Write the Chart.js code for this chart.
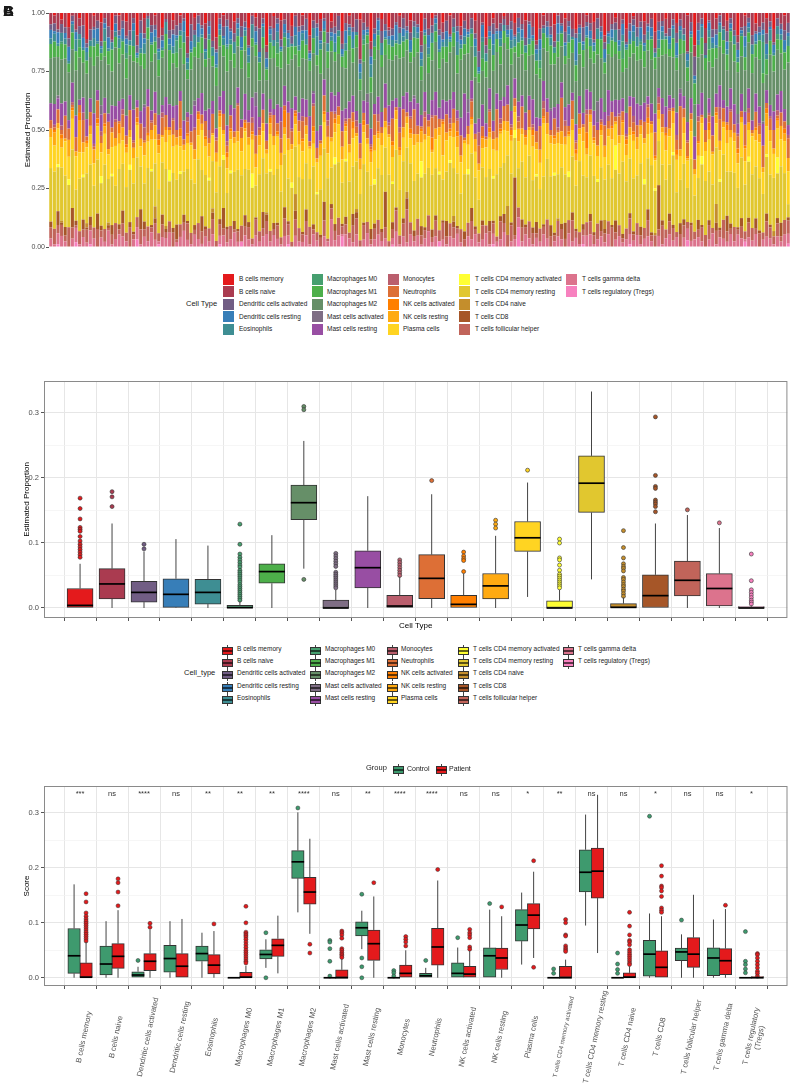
<!DOCTYPE html>
<html>
<head>
<meta charset="utf-8">
<script src="https://cdn.jsdelivr.net/npm/chart.js@4.4.0/dist/chart.umd.min.js"></script>
<style>
  body { margin: 0; background: #fff; }
  #page { position: relative; width: 792px; height: 1086px; overflow: hidden; font-family: "Liberation Sans", Arial, sans-serif; color: #1a1a1a; }
  #page canvas { position: absolute; left: 0; }
  .lbl { position: absolute; white-space: nowrap; line-height: 1; transform: translateY(-50%); }
  .sw { position: absolute; }
  .tag { position: absolute; left: 3px; top: 3px; font-weight: bold; font-size: 15px; line-height: 1; }
</style>
</head>
<body>
<div id="page">
  <canvas id="chartA" width="792" height="260" style="top:0"></canvas>
  <canvas id="chartB" width="792" height="300" style="top:340px"></canvas>
  <canvas id="chartC" width="792" height="316" style="top:770px"></canvas>
  <div class="tag">A</div><div class="tag">B</div><div class="tag">C</div>
</div>
<script>
const FONT = '"Liberation Sans", Arial, sans-serif';

const cellTypes = ['B cells memory', 'B cells naive', 'Dendritic cells activated', 'Dendritic cells resting', 'Eosinophils',
  'Macrophages M0', 'Macrophages M1', 'Macrophages M2', 'Mast cells activated', 'Mast cells resting',
  'Monocytes', 'Neutrophils', 'NK cells activated', 'NK cells resting', 'Plasma cells',
  'T cells CD4 memory activated', 'T cells CD4 memory resting', 'T cells CD4 naive', 'T cells CD8', 'T cells follicular helper',
  'T cells gamma delta', 'T cells regulatory (Tregs)'];
const typeColors = ['#E41A1C', '#AA3B50', '#715D84', '#377EB8', '#3E8E93', '#469F6F', '#4DAF4A', '#668F68', '#7F6E85', '#984EA3',
  '#BA5E6D', '#DD6F36', '#FF7F00', '#FFAA11', '#FFD422', '#FFFF33', '#E1C72F', '#C48E2C', '#A65628', '#C1645A', '#DC738D', '#F781BF'];
const groupNames = ['Control', 'Patient'];
const groupColors = ['#3E9A6E', '#E41A1C'];

// panel A: per-sample estimated composition (percent, one value per sample)
const bCellsMemory = [0,1,0,3,0,5,0,0,2,0, 12,0,1,0,4,0,0,7,0,1, 0,3,0,0,9,0,2,0,0,1, 0,6,0,0,3,0,1,0,10,0,
  2,0,0,4,0,0,8,0,1,0, 0,3,0,0,0,6,0,2,0,0, 15,0,1,0,3,0,0,5,0,0, 1,0,9,0,0,2,0,0,4,0,
  0,7,0,1,0,0,3,0,0,11, 0,0,2,0,5,0,0,1,0,0, 3,0,0,8,0,0,2,0,0,4, 0,1,0,0,6,0,0,0,3,0,
  0,9,0,2,0,0,1,0,0,5, 0,0,3,0,0,12,0,1,0,0, 4,0,0,2,0,0,7,0,0,1, 0,3,0,0,10,0,0,2,0,0,
  6,0,1,0,0,3,0,0,8,0, 0,2,0,0,4,0,0,1,0,17, 0,0,5,0,0,2,0,0,3,0, 0,9,0,1,0,0,4,0,0,2, 0,6,0,0,1,0];
const bCellsNaive = [4,3,6,2,5,4,1,7,3,5, 2,6,4,3,8,2,5,4,1,6, 3,5,7,2,4,3,6,1,5,4, 9,3,2,6,4,5,3,2,7,4,
  5,1,4,6,3,13,4,2,5,3, 6,4,2,5,3,7,1,4,6,2, 3,5,4,2,8,3,6,4,1,5, 4,2,6,3,5,4,2,7,3,6,
  1,5,4,3,6,2,18,4,5,3, 6,2,4,5,1,7,3,4,2,6, 5,3,4,6,2,5,3,1,6,4, 3,7,2,5,4,3,6,2,5,17,
  4,3,5,2,6,4,1,5,3,6, 2,4,7,3,5,2,6,4,3,5, 6,1,4,5,3,6,2,4,5,3, 4,6,2,5,3,7,4,2,6,3,
  5,4,1,6,3,5,4,2,7,4, 3,5,6,2,4,3,5,16,3,6, 4,2,5,3,6,4,1,5,4,2, 6,3,5,4,2,7,3,5,4,6, 3,5,2,4,6,3];
const dcActivated = [2,3,1,4,2,3,2,1,3,5, 2,4,1,3,2,2,4,1,3,2, 3,1,4,2,3,5,2,1,3,2, 4,2,1,3,2,4,3,1,2,6,
  2,3,1,4,2,3,1,2,4,3, 1,3,2,4,2,1,3,2,9,2, 3,1,4,2,3,2,1,3,4,2, 2,4,1,3,2,3,1,4,2,3,
  5,2,3,1,2,4,2,3,1,3, 2,1,4,3,2,3,1,2,4,2, 3,2,1,3,4,2,3,1,2,3, 4,1,3,2,2,3,1,4,2,7,
  1,3,2,4,1,3,2,2,3,1, 4,2,3,1,3,2,4,1,2,3, 2,3,1,4,2,3,2,1,5,2, 3,1,4,2,3,1,2,3,4,2,
  1,3,2,4,2,3,1,3,2,4, 2,1,3,2,4,3,2,1,3,10, 3,2,4,1,3,2,3,1,4,2, 2,3,1,4,2,3,1,2,3,4, 2,1,3,2,4,3];
const dcResting = [3,1,4,0,2,5,1,3,0,4, 2,0,3,5,1,2,4,0,3,1, 4,2,0,3,1,6,2,0,4,3, 1,3,0,2,5,1,0,4,2,3,
  0,5,2,1,3,0,4,2,1,8, 3,0,2,4,1,3,0,5,2,1, 4,2,0,3,1,4,2,0,3,5, 1,3,2,0,4,1,3,0,2,4,
  0,2,5,1,3,0,4,2,1,3, 2,4,0,3,1,2,5,0,3,1, 4,0,2,3,1,4,0,2,5,1, 3,1,0,4,2,3,1,0,3,2,
  5,0,2,4,1,3,0,2,4,1, 2,3,0,5,1,2,4,0,3,1, 0,4,2,1,3,0,10,2,1,4, 3,1,0,2,4,1,3,0,2,5,
  1,3,2,0,4,1,2,3,0,4, 2,0,3,1,5,2,0,3,1,2, 4,1,0,3,2,4,1,0,3,2, 0,3,1,4,2,0,3,1,2,4, 1,3,0,2,4,1];
const eosinophils = [2,3,1,4,2,1,3,5,2,1, 4,2,3,1,2,5,1,3,2,4, 1,3,2,6,1,2,4,3,1,2, 3,1,4,2,3,1,2,4,3,1,
  5,2,1,3,2,4,1,2,3,1, 2,4,3,1,2,3,5,1,2,4, 1,3,2,4,1,2,3,1,4,2, 3,2,1,4,9,2,1,3,2,4,
  2,1,3,2,4,1,3,2,1,5, 3,2,4,1,2,3,1,4,2,3, 1,4,2,3,1,2,4,3,1,2, 3,1,2,5,2,3,1,2,4,1,
  2,3,1,4,2,3,2,1,3,4, 4,1,3,2,1,3,4,2,1,3, 2,3,1,4,3,1,2,3,2,1, 3,2,4,1,2,3,1,5,2,3,
  1,2,3,4,1,2,3,1,2,4, 3,1,2,3,1,4,2,3,1,2, 2,4,1,3,2,1,3,4,2,1, 3,2,1,4,2,3,1,2,3,2, 4,1,3,2,1,3];
const macrophagesM0 = [0,0,0,1,0,0,0,0,3,0, 0,0,0,0,0,0,0,0,0,0, 0,2,0,0,0,0,0,0,0,0, 0,0,0,0,0,5,0,0,0,0,
  0,0,0,0,0,0,0,0,0,1, 0,0,0,0,0,0,0,0,0,0, 0,0,0,4,0,0,0,0,0,0, 0,0,0,0,0,0,0,0,0,0,
  0,0,0,0,0,0,0,2,0,0, 0,0,0,0,0,0,0,0,0,0, 0,0,0,0,0,1,0,0,0,0, 0,0,0,0,0,0,0,0,0,0,
  7,0,0,0,0,0,0,0,0,0, 0,0,0,0,0,0,3,0,0,0, 0,0,0,0,0,0,0,0,0,0, 0,0,0,0,0,0,0,0,0,8,
  0,0,0,0,1,0,0,0,0,0, 0,0,0,0,0,0,0,0,0,0, 0,0,0,5,0,0,0,0,0,0, 0,0,0,0,0,0,0,0,13,0, 0,0,2,0,0,0];
const macrophagesM1 = [5,6,4,7,5,3,6,8,4,5, 6,4,7,5,3,6,5,9,4,6, 5,7,4,6,2,5,6,4,7,5, 6,3,5,7,4,6,5,8,4,6,
  4,6,5,3,7,5,6,4,5,10, 6,5,4,7,5,6,3,5,7,4, 5,6,4,5,7,4,6,5,3,6, 7,5,4,6,5,8,4,6,5,4,
  6,4,7,5,6,4,5,7,3,6, 5,6,4,7,5,6,4,5,6,5, 4,7,5,6,3,5,7,4,6,5, 6,4,5,7,5,4,6,5,8,4,
  5,6,4,6,5,7,4,5,6,3, 6,5,7,4,5,6,4,6,5,7, 4,6,5,3,6,5,7,4,6,5, 5,4,6,7,5,4,6,5,3,6,
  7,5,4,6,5,6,4,7,5,4, 6,5,3,6,5,7,4,6,5,11, 5,6,4,5,7,4,6,5,6,4, 6,4,7,5,4,6,5,7,4,6, 5,6,4,5,7,5];
const macrophagesM2 = [16,18,14,20,15,17,12,19,16,14, 21,15,17,13,19,16,18,14,22,15, 17,13,16,19,15,18,14,17,20,16, 14,19,16,12,18,15,17,21,14,16,
  18,15,13,17,19,16,14,18,15,24, 17,14,16,19,15,13,18,16,14,17, 20,15,17,14,16,18,13,19,15,17, 16,14,18,15,31,17,14,16,19,15,
  13,17,16,18,14,20,15,16,18,14, 17,19,15,13,16,18,14,17,15,19, 16,14,18,15,17,13,16,19,14,17, 15,18,16,14,26,15,17,13,18,16,
  14,17,15,19,16,14,18,15,17,13, 18,15,17,14,16,19,15,13,17,16, 15,18,14,16,17,15,19,14,16,18, 13,16,18,15,17,14,16,19,15,12,
  17,15,14,18,16,13,17,15,19,14, 16,18,15,13,17,16,14,18,15,17, 19,14,16,15,18,13,16,17,14,18, 15,17,13,16,19,15,14,17,16,6, 18,15,17,14,16,19];
const mastActivated = [0,0,1,0,0,0,0,0,0,0, 0,0,0,0,4,0,0,0,0,0, 0,0,0,0,0,0,1,0,0,0, 0,0,0,0,0,0,0,0,0,0,
  2,0,0,0,0,0,0,0,0,0, 0,0,0,0,0,0,0,6,0,0, 0,0,0,0,0,0,0,0,0,0, 0,0,0,1,0,0,0,0,0,0,
  0,0,0,0,0,0,0,0,3,0, 0,0,0,0,0,0,0,0,0,0, 0,1,0,0,0,0,0,0,0,0, 0,0,0,0,0,0,5,0,0,0,
  0,0,0,0,0,0,0,0,0,0, 0,0,0,0,0,0,0,0,0,1, 0,0,0,0,0,0,0,0,0,0, 0,0,8,0,0,0,0,0,0,0,
  0,0,0,0,0,0,0,0,0,0, 0,0,0,0,0,2,0,0,0,0, 0,0,0,0,0,0,0,0,0,0, 0,4,0,0,0,0,0,0,1,0, 0,0,0,0,0,0];
const mastResting = [6,8,4,10,5,3,7,9,2,6, 8,5,11,4,7,6,3,9,5,8, 4,7,6,12,3,5,8,6,4,9, 7,3,6,8,5,10,4,7,2,6,
  9,5,7,4,8,6,3,5,10,7, 4,8,6,3,9,5,7,13,4,6, 8,5,2,7,6,9,4,8,5,3, 7,6,10,4,8,5,6,3,9,7,
  5,8,4,6,7,3,9,5,8,6, 4,7,5,11,6,8,3,7,5,9, 6,4,8,5,7,2,6,9,4,8, 5,7,6,3,8,17,5,7,4,6,
  9,5,8,4,6,7,3,8,5,10, 6,4,7,5,9,6,3,8,5,7, 4,9,6,5,8,3,7,6,4,9, 7,5,3,8,6,10,4,7,5,6,
  8,4,6,9,5,7,3,6,8,4, 6,7,5,3,9,6,4,8,5,12, 5,8,4,6,7,5,9,3,6,8, 7,4,6,5,8,3,7,6,9,5, 4,7,6,8,5,3];
const monocytes = [0,1,0,2,0,0,1,0,0,3, 0,0,1,0,2,0,0,0,1,0, 2,0,0,1,0,0,5,0,1,0, 0,2,0,0,1,0,0,0,2,0,
  1,0,0,0,3,0,1,0,0,2, 0,0,1,0,0,0,2,0,1,0, 0,1,0,0,7,0,0,1,0,0, 2,0,0,1,0,0,0,2,0,1,
  0,0,1,0,0,2,0,0,0,1, 0,3,0,0,1,0,0,2,0,0, 1,0,0,0,2,0,1,0,0,0, 0,2,0,1,0,0,0,1,0,6,
  0,0,1,0,0,2,0,0,1,0, 2,0,0,0,1,0,0,3,0,0, 0,1,0,2,0,0,1,0,0,2, 0,0,0,1,0,2,0,0,1,0,
  1,0,2,0,0,0,1,0,0,3, 0,0,1,0,2,0,0,1,0,0, 2,0,0,1,0,0,5,0,0,1, 0,1,0,0,2,0,0,1,0,0, 1,0,2,0,0,1];
const neutrophils = [3,1,5,2,8,4,1,6,3,9, 2,5,1,7,3,4,10,2,6,1, 5,3,8,2,4,6,1,9,3,5, 2,7,4,1,6,3,11,2,5,4,
  8,1,3,6,2,9,4,1,7,3, 5,2,10,4,1,6,3,8,2,5, 4,1,7,3,6,2,9,5,1,4, 7,3,2,8,5,1,6,4,12,2,
  3,6,1,9,4,2,7,3,5,1, 8,4,2,6,3,10,1,5,7,2, 4,9,3,1,6,2,8,5,3,1, 7,2,5,4,9,1,3,6,2,8,
  4,1,6,3,11,2,5,7,1,4, 3,8,2,6,1,5,9,3,4,2, 6,1,13,4,2,7,3,5,1,8, 2,4,6,1,9,3,5,2,7,4,
  1,8,3,5,2,6,4,1,10,3, 5,2,7,1,4,20,3,6,2,5, 8,1,4,3,6,2,9,5,1,7, 3,5,2,8,4,1,6,3,9,2, 4,7,1,5,3,6];
const nkActivated = [0,1,0,2,0,0,1,0,3,0, 1,0,0,2,0,1,0,0,0,4, 0,1,0,0,2,0,0,1,0,0, 2,0,1,0,0,0,3,0,1,0,
  0,2,0,1,0,0,0,1,0,2, 1,0,0,0,2,0,1,0,0,0, 0,2,0,1,0,8,0,0,1,0, 1,0,0,2,0,0,1,0,0,2,
  0,0,1,0,3,0,0,2,0,1, 0,1,0,0,0,2,0,1,0,0, 2,0,0,1,0,0,5,0,0,1, 0,1,0,2,0,0,0,1,0,0,
  1,0,2,0,0,1,0,0,2,0, 0,0,1,0,2,0,0,1,0,0, 1,0,0,0,1,0,2,0,0,7, 0,1,0,2,0,0,1,0,0,1,
  2,0,1,0,0,0,2,0,1,0, 0,1,0,0,2,0,0,1,0,0, 1,0,0,3,0,1,0,0,2,0, 0,2,0,1,0,0,1,0,0,2, 0,0,1,0,2,0];
const nkResting = [3,5,2,4,1,6,3,2,12,4, 2,3,5,1,4,3,2,6,3,4, 5,2,3,4,1,3,5,2,4,6, 3,1,4,2,5,3,4,2,3,1,
  4,6,2,3,5,1,3,4,2,5, 3,2,4,5,1,3,2,6,4,3, 2,4,3,1,5,3,4,2,3,5, 4,3,1,5,2,4,3,6,2,4,
  3,5,2,3,4,1,5,3,2,4, 6,2,4,3,1,5,3,2,4,3, 2,4,3,5,2,3,1,4,3,13, 3,2,5,4,3,1,4,2,5,3,
  4,3,2,4,5,1,3,4,2,3, 5,2,3,1,4,3,5,2,4,3, 2,4,5,3,1,4,3,2,5,3, 3,1,4,2,5,3,4,1,3,6,
  4,3,2,5,3,2,4,3,1,4, 2,5,3,4,2,3,5,1,4,3, 5,2,3,4,1,3,4,2,5,3, 3,4,2,5,3,1,4,3,2,5, 4,2,3,5,3,4];
const plasmaCells = [11,10,13,9,12,8,11,14,10,9, 12,11,8,13,10,12,9,11,15,10, 9,12,11,10,13,8,11,9,12,10, 13,10,9,12,11,14,10,8,11,12,
  10,9,13,11,8,12,10,14,9,11, 12,10,11,9,13,10,12,8,11,10, 9,13,10,12,11,9,10,13,8,12, 11,10,12,9,14,11,10,9,12,11,
  13,9,11,10,12,8,11,13,10,9, 11,12,10,9,13,11,10,12,9,11, 10,13,11,8,12,10,9,11,13,10, 12,9,11,10,14,12,9,11,10,13,
  8,11,12,10,9,13,11,10,12,9, 11,10,13,9,12,11,10,21,9,12, 10,12,9,11,13,10,11,9,12,10, 13,11,9,12,10,11,14,9,11,12,
  10,9,12,11,10,13,9,11,12,10, 12,10,11,9,13,11,10,12,9,11, 9,12,10,13,11,9,12,10,11,13, 11,10,12,9,11,12,10,13,9,11, 12,9,11,10,13,10];
const cd4MemoryActivated = [0,0,1,0,0,2,0,0,0,1, 0,0,0,0,3,0,0,1,0,0, 0,0,2,0,0,0,0,0,1,0, 0,0,0,4,0,0,1,0,0,0,
  0,0,0,0,1,0,0,0,2,0, 1,0,0,0,0,0,5,0,0,0, 0,1,0,0,0,0,0,2,0,0, 0,0,0,0,1,0,0,0,0,3,
  0,0,1,0,0,0,0,0,0,0, 2,0,0,0,0,1,0,0,0,0, 0,0,0,7,0,0,0,0,1,0, 0,1,0,0,0,0,2,0,0,0,
  0,0,0,1,0,0,0,0,0,4, 0,0,0,0,0,1,0,0,0,0, 1,0,0,0,2,0,0,0,0,0, 0,0,1,0,0,0,0,10,0,0,
  0,0,0,0,0,2,0,0,1,0, 0,0,0,1,0,0,0,0,0,0, 0,3,0,0,0,0,1,0,0,0, 0,0,0,0,2,0,0,0,0,1, 0,0,6,0,0,0];
const cd4MemoryResting = [19,22,16,24,18,15,21,13,20,17, 23,19,15,21,18,25,16,20,14,22, 18,16,21,19,24,17,15,20,22,18, 16,21,19,14,23,18,20,16,22,19,
  17,24,15,20,18,22,16,19,21,15, 20,17,23,19,16,21,18,14,22,20, 18,22,16,20,19,24,15,21,17,19, 21,16,19,23,18,15,20,22,17,26,
  19,16,22,18,20,15,21,24,18,17, 15,21,18,20,23,17,19,16,22,20, 24,18,16,21,19,15,22,18,20,17, 19,23,17,20,16,22,18,21,19,15,
  22,18,20,16,24,19,17,21,18,20, 16,21,19,23,17,20,15,19,22,18, 20,17,22,18,16,21,19,24,17,20, 23,19,16,20,18,22,17,21,19,33,
  18,21,17,20,22,16,19,23,18,20, 21,17,19,22,16,20,18,15,21,19, 17,22,18,20,16,21,19,24,17,20, 19,16,21,18,23,17,20,19,16,22, 18,20,17,21,19,4];
const cd4Naive = [0,0,0,1,0,0,0,0,0,0, 2,0,0,0,0,0,1,0,0,0, 0,0,0,0,0,0,0,0,0,5, 0,0,1,0,0,0,0,0,0,0,
  0,0,0,0,0,2,0,0,0,0, 0,0,0,0,0,0,0,0,0,0, 1,0,0,0,0,0,0,0,6,0, 0,0,0,0,0,0,0,0,0,0,
  0,0,0,0,0,1,0,0,0,0, 0,0,0,0,0,0,0,0,0,3, 0,0,0,0,0,0,0,0,0,0, 0,0,2,0,0,0,0,0,0,0,
  0,0,0,0,0,0,0,12,0,0, 0,0,0,0,0,0,0,0,0,0, 0,1,0,0,0,0,0,0,0,0, 0,0,0,0,4,0,0,0,0,0,
  0,0,0,0,0,0,0,0,1,0, 0,0,0,0,0,0,0,0,0,0, 0,0,0,0,0,7,0,0,0,0, 0,0,0,0,0,0,0,0,0,0, 0,2,0,0,0,0];
const cd8 = [2,0,5,1,3,0,7,2,0,4, 1,3,0,6,2,0,1,4,0,2, 5,0,2,1,0,8,3,0,1,2, 0,4,1,0,2,6,0,3,1,0,
  2,0,5,1,0,3,0,2,9,1, 0,3,1,0,4,2,0,1,0,6, 3,0,2,1,0,5,1,0,3,0, 1,4,0,2,0,1,7,0,2,3,
  0,1,3,0,5,2,0,1,0,4, 2,0,1,16,0,3,1,0,2,5, 0,2,0,4,1,0,3,2,0,1, 6,0,2,1,0,3,0,5,1,0,
  2,0,4,1,0,2,3,0,1,29, 0,3,1,0,2,5,0,1,0,4, 1,0,2,6,0,3,1,0,2,0, 3,1,0,4,2,0,1,5,0,2,
  0,2,1,0,3,0,4,1,0,20, 2,0,3,1,0,5,2,0,1,0, 4,1,0,2,0,3,1,0,6,2, 0,1,3,0,2,0,4,1,0,3, 1,0,2,5,0,1];
const follicularHelper = [4,6,3,5,2,7,4,1,5,3, 6,2,4,7,3,5,1,4,6,2, 5,3,8,2,4,6,3,5,2,7, 3,5,2,4,6,1,5,3,7,4,
  2,6,4,3,5,7,2,4,3,6, 5,1,4,6,3,5,2,7,4,3, 6,4,2,5,3,8,4,2,6,5, 3,5,7,2,4,3,6,1,5,4,
  6,3,4,2,7,5,3,6,4,2, 4,6,3,5,2,4,7,3,5,15, 5,2,6,4,3,5,2,6,4,7, 3,5,4,2,6,3,5,7,2,4,
  6,3,5,4,2,7,3,5,6,2, 4,5,3,6,4,2,5,3,7,4, 2,6,4,3,5,8,3,4,2,6, 5,3,6,2,4,5,7,3,4,2,
  4,6,2,5,3,4,6,2,5,3, 7,3,5,4,2,6,4,3,5,4, 3,5,4,6,2,5,3,7,4,2, 5,2,4,3,6,4,2,5,3,6, 4,3,5,2,6,4];
const gammaDelta = [3,1,4,5,2,0,3,6,1,4, 2,5,3,0,4,2,6,1,3,5, 4,2,0,3,5,1,4,2,6,3, 1,4,3,5,0,2,4,6,3,1,
  5,3,1,4,2,6,0,3,5,2, 3,5,2,0,4,3,1,5,2,4, 6,2,4,3,1,5,3,0,4,2, 2,4,1,5,3,0,4,2,13,3,
  4,1,5,3,2,4,0,3,5,1, 3,5,2,4,0,3,5,1,4,2, 5,2,4,1,3,5,2,4,0,3, 1,4,3,5,2,0,4,3,5,2,
  3,5,1,4,2,3,5,0,2,4, 4,2,5,3,1,4,2,5,3,0, 2,4,3,0,5,2,4,1,3,5, 5,1,3,4,2,5,0,3,4,2,
  3,4,2,5,1,3,4,2,0,5, 1,3,5,2,4,0,3,5,2,4, 4,2,0,3,5,1,4,3,2,5, 2,5,3,1,4,2,5,0,3,4, 3,1,4,2,5,3];
const tregs = [0,0,1,0,0,0,0,2,0,0, 0,1,0,0,0,0,0,0,0,0, 0,0,0,0,3,0,0,0,0,0, 1,0,0,0,0,0,0,0,0,0,
  0,0,0,0,0,0,0,1,0,0, 0,0,0,2,0,0,0,0,0,0, 0,0,0,0,0,0,1,0,0,0, 0,0,0,0,0,0,0,0,0,0,
  0,4,0,0,0,0,0,0,0,0, 0,0,0,0,0,1,0,0,0,0, 0,0,0,0,0,0,0,0,2,0, 0,0,0,0,0,0,0,0,0,0,
  0,0,0,1,0,0,0,0,0,0, 8,0,0,0,0,0,0,0,0,0, 0,0,0,0,0,0,0,0,1,0, 0,0,0,0,0,0,0,0,0,0,
  0,1,0,0,0,0,0,0,0,0, 0,0,0,0,0,0,0,3,0,0, 0,0,0,0,0,0,0,0,0,0, 0,0,0,2,0,0,0,0,0,0, 0,0,0,0,0,1];

// panel B: box statistics per cell type
const bxLow  = [0, 0, 0, 0, 0, 0, 0, 0.0605, 0, 0, 0, 0, 0, 0, 0.017, 0, 0.044, 0, 0, 0, 0, 0];
const bxQ1   = [0, 0.014, 0.009, 0.001, 0.006, 0, 0.038, 0.136, 0, 0.031, 0, 0.0144, 0, 0.014, 0.087, 0, 0.147, 0, 0, 0.0185, 0.003, 0];
const bxMed  = [0.004, 0.037, 0.024, 0.021, 0.024, 0.0005, 0.056, 0.162, 0, 0.062, 0.003, 0.0456, 0.0056, 0.034, 0.108, 0, 0.192, 0.001, 0.019, 0.0426, 0.030, 0];
const bxQ3   = [0.030, 0.0605, 0.041, 0.045, 0.044, 0.004, 0.068, 0.189, 0.012, 0.088, 0.0195, 0.082, 0.0195, 0.053, 0.133, 0.011, 0.234, 0.0067, 0.051, 0.072, 0.0528, 0.002];
const bxHigh = [0.068, 0.130, 0.087, 0.106, 0.096, 0.010, 0.112, 0.257, 0.028, 0.172, 0.048, 0.175, 0.053, 0.111, 0.193, 0.028, 0.333, 0.016, 0.130, 0.143, 0.123, 0.004];
const bxOutliers = [
  [0.169, 0.153, 0.137, 0.124, 0.121, 0.118, 0.110, 0.103, 0.098, 0.094, 0.090, 0.086, 0.082, 0.078],
  [0.179, 0.171, 0.156],
  [0.098, 0.091],
  [],
  [],
  [0.129, 0.098, 0.083, 0.078, 0.074, 0.070, 0.066, 0.063, 0.058, 0.055, 0.052, 0.049, 0.046, 0.043, 0.040, 0.036, 0.033, 0.030, 0.027, 0.024, 0.021, 0.018, 0.015, 0.012],
  [],
  [0.310, 0.305, 0.044],
  [0.084, 0.080, 0.076, 0.072, 0.068, 0.064, 0.055, 0.052, 0.049, 0.046, 0.043, 0.040, 0.037, 0.034, 0.031],
  [],
  [0.074, 0.070, 0.066, 0.062, 0.058, 0.054, 0.050],
  [0.196],
  [0.086, 0.080, 0.076, 0.073, 0.056],
  [0.135, 0.129, 0.123],
  [0.212],
  [0.106, 0.100, 0.077, 0.074, 0.066, 0.058, 0.052, 0.049, 0.046, 0.043, 0.040, 0.037, 0.034, 0.031],
  [],
  [0.119, 0.093, 0.077, 0.068, 0.064, 0.061, 0.057, 0.047, 0.044, 0.040, 0.036, 0.033, 0.029, 0.026, 0.022, 0.018],
  [0.294, 0.204, 0.187, 0.184, 0.166, 0.163, 0.160, 0.156, 0.148],
  [0.151],
  [0.131],
  [0.083, 0.042, 0.028, 0.024, 0.020, 0.016, 0.012, 0.009, 0.006]
];

// panel C: box statistics per group
const ctlLow  = [0, 0, 0, 0, 0, 0, 0.018, 0.119, 0, 0.052, 0, 0, 0, 0, 0.024, 0, 0.095, 0, 0, 0, 0, 0];
const ctlQ1   = [0.008, 0.005, 0, 0.010, 0.030, 0, 0.0345, 0.181, 0, 0.076, 0, 0, 0, 0, 0.0667, 0, 0.156, 0, 0.003, 0.031, 0.004, 0];
const ctlMed  = [0.040, 0.025, 0.005, 0.035, 0.044, 0, 0.0424, 0.211, 0, 0.091, 0, 0.0036, 0.008, 0.040, 0.096, 0, 0.192, 0, 0.043, 0.047, 0.036, 0];
const ctlQ3   = [0.0897, 0.0576, 0.011, 0.059, 0.0576, 0, 0.051, 0.2315, 0, 0.102, 0, 0.008, 0.027, 0.0545, 0.124, 0, 0.233, 0, 0.068, 0.054, 0.0545, 0];
const ctlHigh = [0.170, 0.103, 0.020, 0.103, 0.082, 0, 0.070, 0.301, 0, 0.122, 0, 0.018, 0.055, 0.124, 0.155, 0, 0.297, 0, 0.117, 0.079, 0.106, 0];
const ctlOutliers = [[], [], [0.0315], [], [], [], [0.082, 0], [0.309], [0.068, 0.065, 0.053, 0.030, 0.003], [0.152, 0.036, 0.020, 0],
  [0.013, 0.009, 0.003], [0.0315], [0.073], [0.135], [], [0.016, 0.008], [], [0.045, 0.025, 0.015, 0.008], [0.294], [0.105], [],
  [0.084, 0.030, 0.024, 0.016, 0.009]];
const patLow  = [0, 0, 0, 0, 0, 0, 0.008, 0.080, 0, 0, 0, 0, 0, 0, 0.036, 0, 0.045, 0, 0, 0, 0, 0];
const patQ1   = [0, 0.017, 0.0127, 0, 0.007, 0, 0.039, 0.134, 0, 0.0315, 0, 0.023, 0, 0.015, 0.089, 0, 0.145, 0, 0, 0.019, 0.0055, 0];
const patMed  = [0.001, 0.039, 0.030, 0.021, 0.023, 0.001, 0.059, 0.156, 0, 0.062, 0.008, 0.056, 0.0067, 0.036, 0.114, 0, 0.194, 0.001, 0.019, 0.043, 0.031, 0];
const patQ3   = [0.027, 0.062, 0.044, 0.044, 0.042, 0.010, 0.071, 0.183, 0.0145, 0.087, 0.023, 0.090, 0.0206, 0.054, 0.135, 0.0206, 0.236, 0.009, 0.049, 0.073, 0.053, 0.002];
const patHigh = [0.065, 0.123, 0.088, 0.107, 0.085, 0.022, 0.113, 0.253, 0.034, 0.148, 0.050, 0.177, 0.049, 0.112, 0.193, 0.033, 0.333, 0.021, 0.112, 0.151, 0.125, 0.004];
const patOutliers = [
  [0.153, 0.138, 0.118, 0.112, 0.107, 0.103, 0.099, 0.095, 0.091, 0.087, 0.083, 0.079, 0.075, 0.071, 0.067],
  [0.180, 0.173, 0.156, 0.131], [0.099, 0.092], [], [0.098],
  [0.130, 0.100, 0.083, 0.080, 0.077, 0.074, 0.070, 0.065, 0.060, 0.055, 0.050, 0.046, 0.042, 0.038, 0.034, 0.030, 0.027],
  [], [0.061, 0.045], [0.085, 0.082, 0.078, 0.072, 0.053, 0.050, 0.046, 0.043, 0.040, 0.037], [0.173],
  [0.075, 0.070, 0.065, 0.058], [0.197], [0.088, 0.082, 0.078, 0.073, 0.056, 0.052], [0.129], [0.213, 0.019],
  [0.106, 0.100, 0.078, 0.076, 0.058, 0.054, 0.051, 0.048], [],
  [0.119, 0.094, 0.078, 0.068, 0.065, 0.060, 0.051, 0.047, 0.043, 0.039, 0.035, 0.031, 0.027, 0.024],
  [0.204, 0.185, 0.167, 0.164, 0.158, 0.148, 0.127, 0.123, 0.119], [], [0.132],
  [0.044, 0.042, 0.036, 0.030, 0.024, 0.018, 0.012, 0.008, 0.003]];
const sigText = ['***', 'ns', '****', 'ns', '**', '**', '**', '****', 'ns', '**', '****', '****', 'ns', 'ns', '*', '**', 'ns', 'ns', '*', 'ns', 'ns', '*'];

// ---------- helpers / plugins ----------
const panelFrame = {
  id: 'panelFrame',
  afterDraw(chart) {
    const { ctx, chartArea: a } = chart;
    ctx.save();
    ctx.strokeStyle = '#8a8a8a';
    ctx.lineWidth = 1;
    ctx.strokeRect(a.left + 0.5, a.top + 0.5, a.right - a.left - 1, a.bottom - a.top - 1);
    ctx.restore();
  }
};

// whiskers and median lines for floating-bar boxes
const boxWhiskers = {
  id: 'boxWhiskers',
  afterDatasetsDraw(chart) {
    const ctx = chart.ctx, y = chart.scales.y;
    chart.data.datasets.forEach((ds, i) => {
      if (!ds.stats) return;
      const s = ds.stats;
      ctx.save();
      chart.getDatasetMeta(i).data.forEach((bar, j) => {
        const half = bar.width / 2;
        ctx.strokeStyle = '#444';
        ctx.lineWidth = 1;
        ctx.beginPath();
        ctx.moveTo(bar.x, y.getPixelForValue(s.high[j]));
        ctx.lineTo(bar.x, y.getPixelForValue(s.q3[j]));
        ctx.moveTo(bar.x, y.getPixelForValue(s.q1[j]));
        ctx.lineTo(bar.x, y.getPixelForValue(s.low[j]));
        ctx.stroke();
        const m = y.getPixelForValue(s.med[j]);
        ctx.strokeStyle = '#000';
        ctx.lineWidth = 1.7;
        ctx.beginPath();
        ctx.moveTo(bar.x - half, m);
        ctx.lineTo(bar.x + half, m);
        ctx.stroke();
      });
      ctx.restore();
    });
  }
};

function yAxisBox(title, lo, hi) {
  return {
    type: 'linear', min: lo, max: hi,
    afterFit: s => { s.width = 44; },
    afterBuildTicks: s => { s.ticks = [0, 0.05, 0.1, 0.15, 0.2, 0.25, 0.3].map(v => ({ value: v })); },
    ticks: {
      padding: 2, color: '#4d4d4d', font: { size: 7.5, family: FONT },
      callback: v => (Math.round(v * 100) % 10 === 0 ? v.toFixed(1) : '')
    },
    grid: {
      color: c => (Math.round(c.tick.value * 100) % 10 === 0 ? '#e6e6e6' : '#f2f2f2'),
      lineWidth: c => (Math.round(c.tick.value * 100) % 10 === 0 ? 1 : 0.7),
      tickColor: c => (Math.round(c.tick.value * 100) % 10 === 0 ? '#555' : 'rgba(0,0,0,0)'),
      drawTicks: true, tickLength: 3
    },
    border: { display: false },
    title: { display: true, text: title, color: '#000', font: { size: 8, family: FONT }, padding: { top: 21.5, bottom: 0 } }
  };
}

function xAxisBox(height, title) {
  return {
    type: 'linear', min: -0.6, max: 21.6,
    afterFit: s => { s.height = height; },
    afterBuildTicks: s => { s.ticks = cellTypes.map((_, i) => ({ value: i })); },
    ticks: { display: false },
    grid: { color: '#e6e6e6', drawTicks: true, tickLength: 3, tickColor: '#555' },
    border: { display: false },
    title: title ? { display: true, text: title, color: '#000', font: { size: 8, family: FONT }, padding: { top: 0, bottom: 9.2 } } : { display: false }
  };
}

function outlierPoints(lists, offset) {
  const pts = [];
  lists.forEach((vals, i) => vals.forEach(v => pts.push({ x: i + offset, y: v })));
  return pts;
}

// ---------- panel A ----------
const sampleSeries = [bCellsMemory, bCellsNaive, dcActivated, dcResting, eosinophils, macrophagesM0, macrophagesM1, macrophagesM2,
  mastActivated, mastResting, monocytes, neutrophils, nkActivated, nkResting, plasmaCells, cd4MemoryActivated, cd4MemoryResting,
  cd4Naive, cd8, follicularHelper, gammaDelta, tregs];
const nSamples = Math.max(...sampleSeries.map(a => a.length));
const sampleTotals = Array.from({ length: nSamples }, (_, j) => sampleSeries.reduce((s, a) => s + (a[j] || 0), 0));
const sampleLabels = Array.from({ length: nSamples }, (_, j) => 'S' + (j + 1));

new Chart(document.getElementById('chartA'), {
  type: 'bar',
  data: {
    labels: sampleLabels,
    datasets: cellTypes.map((name, t) => ({
      label: name,
      data: sampleSeries[t].map((v, j) => v / sampleTotals[j]),
      backgroundColor: typeColors[t],
      borderWidth: 0,
      barPercentage: 0.86,
      categoryPercentage: 1
    })).reverse()
  },
  options: {
    responsive: false, animation: false, devicePixelRatio: 1, events: [],
    layout: { padding: { left: 0, right: 2, top: 13, bottom: 13 } },
    plugins: { legend: { display: false }, tooltip: { enabled: false } },
    scales: {
      x: { stacked: true, display: false },
      y: {
        stacked: true, min: 0, max: 1,
        afterFit: s => { s.width = 49; },
        ticks: { stepSize: 0.25, padding: 1, color: '#4d4d4d', font: { size: 7, family: FONT }, callback: v => v.toFixed(2) },
        grid: { drawOnChartArea: false, drawTicks: true, tickLength: 3, tickColor: '#555' },
        border: { display: false },
        title: { display: true, text: 'Estimated Proportion', color: '#000', font: { size: 8, family: FONT }, padding: { top: 22.5, bottom: 0 } }
      }
    }
  }
});

// ---------- panel B ----------
const outB = outlierPoints(bxOutliers, 0);
new Chart(document.getElementById('chartB'), {
  type: 'bar',
  data: {
    datasets: [
      {
        data: cellTypes.map((_, i) => ({ x: i, y: [bxQ1[i], bxQ3[i]] })),
        backgroundColor: typeColors, borderColor: '#333', borderWidth: 1, borderSkipped: false,
        barThickness: 26, grouped: false,
        stats: { low: bxLow, q1: bxQ1, med: bxMed, q3: bxQ3, high: bxHigh }
      },
      {
        type: 'scatter',
        data: outB,
        pointRadius: 2, pointBorderWidth: 0.6, pointBorderColor: '#333',
        pointBackgroundColor: outB.map(p => typeColors[Math.round(p.x)])
      }
    ]
  },
  options: {
    responsive: false, animation: false, devicePixelRatio: 1, events: [],
    layout: { padding: { left: 0, right: 3, top: 41, bottom: 0 } },
    plugins: { legend: { display: false }, tooltip: { enabled: false } },
    scales: { x: xAxisBox(22, 'Cell Type'), y: yAxisBox('Estimated Proportion', -0.0154, 0.3492) }
  },
  plugins: [boxWhiskers, panelFrame]
});

// ---------- panel C ----------
const dodge = 0.1875;
const outCtl = outlierPoints(ctlOutliers, -dodge);
const outPat = outlierPoints(patOutliers, dodge);

const sigPlugin = {
  id: 'sigPlugin',
  afterDraw(chart) {
    const { ctx, chartArea: a } = chart;
    const x = chart.scales.x;
    ctx.save();
    ctx.fillStyle = '#333';
    ctx.font = '7.5px ' + FONT;
    ctx.textAlign = 'center';
    ctx.textBaseline = 'alphabetic';
    sigText.forEach((s, i) => ctx.fillText(s, x.getPixelForValue(i), a.top + 10));
    ctx.restore();
  }
};
const rotatedLabels = {
  id: 'rotatedLabels',
  afterDraw(chart) {
    const ctx = chart.ctx, x = chart.scales.x;
    ctx.save();
    ctx.fillStyle = '#555';
    ctx.textAlign = 'center';
    ctx.textBaseline = 'middle';
    cellTypes.forEach((name, i) => {
      const lines = i === 21 ? ['T cells regulatory', '(Tregs)'] : [name];
      ctx.save();
      ctx.translate(x.getPixelForValue(i) + 4, 1037 - 770);
      ctx.rotate(-78 * Math.PI / 180);
      ctx.font = (i === 15 ? '6.2px ' : '7.7px ') + FONT;
      lines.forEach((ln, k) => ctx.fillText(ln, 0, (k - (lines.length - 1) / 2) * 8.5));
      ctx.restore();
    });
    ctx.restore();
  }
};

new Chart(document.getElementById('chartC'), {
  type: 'bar',
  data: {
    datasets: [
      {
        data: cellTypes.map((_, i) => ({ x: i - dodge, y: [ctlQ1[i], ctlQ3[i]] })),
        backgroundColor: groupColors[0], borderColor: '#333', borderWidth: 1, borderSkipped: false,
        barThickness: 12.5, grouped: false,
        stats: { low: ctlLow, q1: ctlQ1, med: ctlMed, q3: ctlQ3, high: ctlHigh }
      },
      {
        data: cellTypes.map((_, i) => ({ x: i + dodge, y: [patQ1[i], patQ3[i]] })),
        backgroundColor: groupColors[1], borderColor: '#333', borderWidth: 1, borderSkipped: false,
        barThickness: 12.5, grouped: false,
        stats: { low: patLow, q1: patQ1, med: patMed, q3: patQ3, high: patHigh }
      },
      { type: 'scatter', data: outCtl, pointRadius: 2, pointBorderWidth: 0.5, pointBorderColor: '#333', pointBackgroundColor: groupColors[0] },
      { type: 'scatter', data: outPat, pointRadius: 2, pointBorderWidth: 0.5, pointBorderColor: '#333', pointBackgroundColor: groupColors[1] }
    ]
  },
  options: {
    responsive: false, animation: false, devicePixelRatio: 1, events: [],
    layout: { padding: { left: 0, right: 2, top: 16, bottom: 0 } },
    plugins: { legend: { display: false }, tooltip: { enabled: false } },
    scales: { x: xAxisBox(100, null), y: yAxisBox('Score', -0.015, 0.349) }
  },
  plugins: [boxWhiskers, panelFrame, sigPlugin, rotatedLabels]
});

// ---------- legends (HTML) ----------
const page = document.getElementById('page');
function addText(text, x, y, size) {
  const d = document.createElement('div');
  d.className = 'lbl';
  d.textContent = text;
  d.style.left = x + 'px';
  d.style.top = y + 'px';
  d.style.fontSize = size + 'px';
  page.appendChild(d);
}
function boxGlyph(color, x, y) {
  const d = document.createElement('div');
  d.className = 'sw';
  d.style.left = x + 'px';
  d.style.top = (y - 6) + 'px';
  d.innerHTML = '<svg width="11" height="12" viewBox="0 0 11 12">' +
    '<line x1="5.5" y1="0" x2="5.5" y2="12" stroke="#444" stroke-width="1"/>' +
    '<rect x="0.5" y="2.5" width="10" height="7" fill="' + color + '" stroke="#333" stroke-width="1"/>' +
    '<line x1="0.5" y1="6" x2="10.5" y2="6" stroke="#000" stroke-width="1.2"/></svg>';
  page.appendChild(d);
}
function flatSwatch(color, x, y) {
  const d = document.createElement('div');
  d.className = 'sw';
  d.style.left = x + 'px';
  d.style.top = (y - 5.5) + 'px';
  d.style.width = '11px';
  d.style.height = '11px';
  d.style.background = color;
  page.appendChild(d);
}

// panel A legend
const legA = { sw: [223, 312, 388, 459, 566], tx: [239, 327, 403, 475, 582], rows: [279, 291.5, 304, 316.5, 329] };
addText('Cell Type', 186, 304, 7.5);
cellTypes.forEach((name, i) => {
  const c = Math.floor(i / 5), r = i % 5;
  flatSwatch(typeColors[i], legA.sw[c], legA.rows[r]);
  addText(name, legA.tx[c], legA.rows[r], 6.5);
});

// panel B legend
const legB = { sw: [222, 310, 387, 458, 563], tx: [237, 325, 401, 473, 578], rows: [649, 661, 673, 685.5, 698] };
addText('Cell_type', 184, 673, 7.5);
cellTypes.forEach((name, i) => {
  const c = Math.floor(i / 5), r = i % 5;
  boxGlyph(typeColors[i], legB.sw[c], legB.rows[r]);
  addText(name, legB.tx[c], legB.rows[r], 6.5);
});

// panel C legend
addText('Group', 366, 768, 7.5);
boxGlyph(groupColors[0], 393, 768);
addText(groupNames[0], 407, 768, 7);
boxGlyph(groupColors[1], 436, 768);
addText(groupNames[1], 449, 768, 7);
</script>
</body>
</html>
